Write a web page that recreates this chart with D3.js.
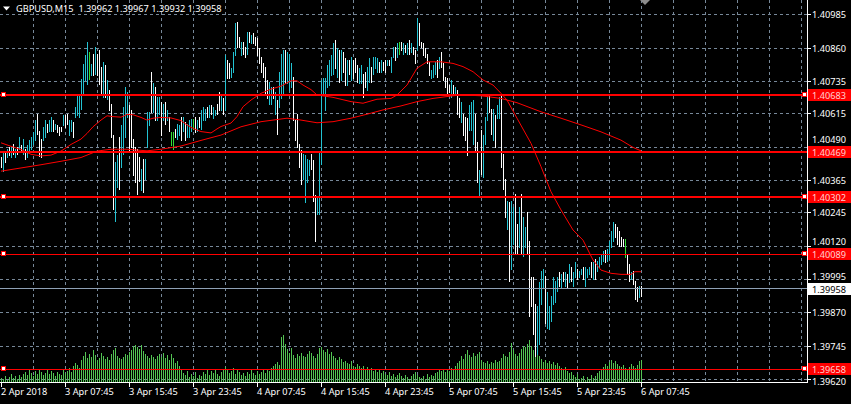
<!DOCTYPE html>
<html><head><meta charset="utf-8">
<script src="https://cdn.jsdelivr.net/npm/d3@7"></script>
<style>
html,body{margin:0;padding:0;background:#000;}
svg{display:block;}
text{font-family:"Noto Sans",sans-serif;}
</style></head><body>
<svg id="chart" width="851" height="404"></svg>
<script>
// ---------------- DATA ----------------
const chartTitle = "GBPUSD,M15  1.39962 1.39967 1.39932 1.39958";

const highs = [
1.40451,1.40469,1.40469,1.40482,1.40490,1.40488,1.40500,1.40482,1.40488,1.40525,
1.40494,1.40519,1.40482,1.40494,1.40513,1.40525,1.40544,1.40588,1.40613,1.40550,
1.40519,1.40563,1.40588,1.40575,1.40588,1.40600,1.40588,1.40575,1.40569,1.40563,
1.40563,1.40607,1.40607,1.40610,1.40588,1.40588,1.40582,1.40638,1.40682,1.40688,
1.40744,1.40800,1.40832,1.40882,1.40844,1.40800,1.40838,1.40863,1.40838,1.40851,
1.40788,1.40807,1.40794,1.40738,1.40700,1.40650,1.40532,1.40432,1.40457,1.40525,
1.40569,1.40638,1.40713,1.40694,1.40644,1.40625,1.40519,1.40488,1.40482,1.40451,
1.40407,1.40444,1.40444,1.40619,1.40619,1.40769,1.40726,1.40713,1.40675,1.40675,
1.40657,1.40650,1.40657,1.40625,1.40600,1.40544,1.40544,1.40557,1.40575,1.40569,
1.40600,1.40600,1.40582,1.40575,1.40588,1.40594,1.40594,1.40600,1.40588,1.40600,
1.40626,1.40638,1.40632,1.40638,1.40645,1.40645,1.40638,1.40626,1.40651,1.40695,
1.40682,1.40670,1.40832,1.40813,1.40801,1.40782,1.40845,1.40951,1.40957,1.40901,
1.40882,1.40882,1.40863,1.40920,1.40920,1.40907,1.40913,1.40901,1.40895,1.40857,
1.40826,1.40801,1.40788,1.40738,1.40732,1.40713,1.40713,1.40695,1.40663,1.40770,
1.40838,1.40851,1.40851,1.40845,1.40838,1.40801,1.40751,1.40588,1.40613,1.40501,
1.40476,1.40463,1.40457,1.40445,1.40438,1.40463,1.40438,1.40307,1.40301,1.40470,
1.40738,1.40745,1.40745,1.40795,1.40813,1.40832,1.40876,1.40888,1.40857,1.40851,
1.40851,1.40845,1.40820,1.40813,1.40813,1.40826,1.40813,1.40820,1.40795,1.40782,
1.40795,1.40763,1.40770,1.40788,1.40820,1.40788,1.40826,1.40826,1.40820,1.40807,
1.40813,1.40807,1.40813,1.40813,1.40813,1.40826,1.40863,1.40863,1.40876,1.40882,
1.40882,1.40876,1.40870,1.40876,1.40888,1.40876,1.40863,1.40851,1.40970,1.40951,
1.40882,1.40876,1.40857,1.40838,1.40807,1.40776,1.40795,1.40807,1.40813,1.40826,
1.40845,1.40801,1.40751,1.40745,1.40720,1.40738,1.40720,1.40713,1.40701,1.40670,
1.40657,1.40613,1.40601,1.40595,1.40645,1.40657,1.40663,1.40613,1.40507,1.40401,
1.40551,1.40532,1.40601,1.40682,1.40682,1.40632,1.40632,1.40607,1.40645,1.40676,
1.40682,1.40463,1.40370,1.40288,1.40282,1.40288,1.40263,1.40313,1.40201,1.40263,
1.40313,1.40226,1.40188,1.40245,1.40138,1.40001,1.40001,1.39901,1.39895,1.39982,
1.40026,1.40032,1.40007,1.39945,1.39895,1.39932,1.40001,1.39988,1.40001,1.40020,
1.40013,1.40020,1.40020,1.40013,1.40051,1.40038,1.40020,1.40057,1.40032,1.40026,
1.40032,1.40038,1.40038,1.40032,1.40038,1.40057,1.40057,1.40070,1.40063,1.40076,
1.40088,1.40101,1.40103,1.40107,1.40138,1.40176,1.40207,1.40201,1.40188,1.40176,
1.40151,1.40145,1.40145,1.40088,1.40051,1.40020,1.40026,1.39988,1.39963,1.39970,
1.39967];

const lows = [
1.40413,1.40400,1.40432,1.40451,1.40457,1.40451,1.40463,1.40451,1.40463,1.40482,
1.40469,1.40463,1.40444,1.40451,1.40469,1.40482,1.40500,1.40513,1.40538,1.40453,
1.40451,1.40513,1.40525,1.40544,1.40550,1.40550,1.40550,1.40557,1.40544,1.40532,
1.40550,1.40569,1.40563,1.40575,1.40532,1.40550,1.40525,1.40600,1.40607,1.40600,
1.40632,1.40688,1.40738,1.40725,1.40744,1.40757,1.40757,1.40763,1.40757,1.40725,
1.40682,1.40676,1.40676,1.40669,1.40625,1.40525,1.40257,1.40213,1.40338,1.40332,
1.40413,1.40463,1.40525,1.40600,1.40475,1.40488,1.40382,1.40357,1.40313,1.40363,
1.40326,1.40319,1.40369,1.40488,1.40569,1.40619,1.40619,1.40588,1.40588,1.40613,
1.40532,1.40588,1.40575,1.40588,1.40550,1.40494,1.40482,1.40525,1.40519,1.40532,
1.40513,1.40550,1.40513,1.40525,1.40525,1.40550,1.40557,1.40544,1.40550,1.40563,
1.40557,1.40588,1.40588,1.40601,1.40601,1.40613,1.40595,1.40607,1.40613,1.40626,
1.40626,1.40613,1.40626,1.40745,1.40745,1.40751,1.40770,1.40832,1.40863,1.40863,
1.40832,1.40838,1.40826,1.40838,1.40882,1.40876,1.40876,1.40870,1.40832,1.40801,
1.40770,1.40751,1.40682,1.40670,1.40651,1.40651,1.40670,1.40613,1.40538,1.40638,
1.40670,1.40688,1.40726,1.40726,1.40701,1.40713,1.40588,1.40513,1.40488,1.40413,
1.40351,1.40370,1.40282,1.40357,1.40382,1.40407,1.40288,1.40138,1.40238,1.40238,
1.40426,1.40682,1.40626,1.40713,1.40720,1.40757,1.40763,1.40782,1.40751,1.40732,
1.40738,1.40770,1.40720,1.40720,1.40763,1.40738,1.40745,1.40770,1.40732,1.40726,
1.40726,1.40676,1.40713,1.40701,1.40732,1.40732,1.40763,1.40782,1.40770,1.40770,
1.40770,1.40776,1.40770,1.40795,1.40795,1.40770,1.40826,1.40813,1.40826,1.40838,
1.40851,1.40838,1.40845,1.40838,1.40838,1.40845,1.40838,1.40801,1.40851,1.40870,
1.40863,1.40832,1.40826,1.40801,1.40757,1.40745,1.40751,1.40763,1.40751,1.40782,
1.40788,1.40738,1.40713,1.40688,1.40695,1.40676,1.40688,1.40688,1.40613,1.40601,
1.40582,1.40532,1.40513,1.40457,1.40551,1.40551,1.40501,1.40470,1.40357,1.40307,
1.40389,1.40376,1.40501,1.40588,1.40620,1.40538,1.40513,1.40488,1.40595,1.40595,
1.40413,1.40332,1.40226,1.40182,1.39988,1.40032,1.40126,1.40088,1.40088,1.40113,
1.40088,1.40082,1.40113,1.40088,1.39857,1.39895,1.39788,1.39707,1.39713,1.39751,
1.39901,1.39963,1.39832,1.39813,1.39807,1.39838,1.39901,1.39907,1.39951,1.39970,
1.39963,1.39988,1.39970,1.39963,1.39982,1.39988,1.39970,1.40001,1.39995,1.40001,
1.40013,1.39995,1.39970,1.40001,1.40013,1.40001,1.39995,1.39995,1.40026,1.40038,
1.40051,1.40063,1.40057,1.40063,1.40070,1.40113,1.40138,1.40151,1.40126,1.40120,
1.40120,1.40120,1.40076,1.40013,1.39988,1.39995,1.39976,1.39920,1.39913,1.39926,
1.39932];

// U = bull bar, D = bear bar, N = unchanged
const barDir = (
"DUDUDUDUDU"+"DUDUUUUUDD"+"DUUDUUDUDD"+"DUDDUUDUUU"+"UUUUNUDUDD"+
"DUDUDDDUUD"+"UUUUDDDDDD"+"UDUUUDUDUU"+"DUDUDNNDUU"+"DUDUUUNDUD"+
"UUUDUDUUDD"+"UDUDDUUUDD"+"UDDUDUDDDD"+"DDDDUUDUDU"+"UUDUUUDDDD"+
"DUUUUDDDUU"+"UUUUUUUDUD"+"UDDUDUDDDU"+"UDDUUDUUUD"+"UDDUDUUDUN"+
"DUDUDUDDUD"+"DDDDDUUUDU"+"DDDDDUDUDD"+"UDDDUUUDDU"+"DUUUDDUDUU"+
"DDDUDUUDDU"+"DUUDDDDDUU"+"UUDUUUUUUD"+"UDUDUDUUDU"+"UDUUUDUDUU"+
"UUDUUUUDDD"+"DDNDDUDDDU"+"D").split("");

const volumes = [
100,75,150,50,125,200,100,150,75,175,
125,200,250,175,300,225,150,275,200,325,
250,175,225,300,200,275,225,150,250,200,
175,300,225,275,350,250,400,475,425,350,
550,650,750,600,700,625,800,675,550,600,
725,650,575,625,550,700,800,850,650,600,
575,625,700,675,750,800,900,925,875,825,
925,775,700,650,600,675,625,575,650,700,
625,725,600,675,550,700,600,475,525,400,
300,225,175,275,125,200,150,250,100,175,
150,250,200,325,175,275,225,300,200,150,
250,325,375,300,225,275,350,200,300,250,
175,225,150,250,200,300,225,175,275,200,
250,300,225,325,275,350,400,450,500,425,
1125,1175,950,825,725,850,675,600,700,650,
725,650,625,700,775,725,650,600,700,850,
875,800,750,825,700,750,650,600,550,625,
575,500,525,475,450,525,400,375,450,400,
350,400,325,375,300,350,275,325,250,300,
225,275,200,175,250,150,200,125,175,225,
150,100,175,125,75,150,200,250,175,125,
100,150,75,200,125,175,150,225,250,300,
275,325,250,300,275,350,300,400,475,525,
650,575,700,800,675,625,725,650,700,750,
550,500,475,525,450,500,475,550,500,525,
600,700,650,625,750,975,800,700,650,725,
825,900,875,950,1050,900,800,725,850,650,
575,500,550,475,525,450,500,425,475,400,
350,300,375,275,225,250,175,125,200,75,
100,150,50,125,75,175,100,150,225,275,
325,375,450,400,500,550,475,525,450,400,
375,425,350,300,375,450,400,350,425,525,
550];

const fastMAIdx = [0,5,10,15,20,25,30,35,40,43,46,50,53,56,60,63,66,70,73,76,80,85,90,93,96,100,105,108,110,115,118,121,125,130,135,140,145,148,151,155,158,166,175,181,188,195,198,203,208,213,220,226,231,236,241,246,250,253,258,265,270,275,280,286,291,296,300,305,310,315,317,320];
const fastMA = [1.40504,1.40491,1.40479,1.40461,1.40455,1.40458,1.40473,1.40498,1.40518,1.40539,1.40564,1.40589,1.40605,1.40602,1.40600,1.40610,1.40609,1.40599,1.40589,1.40596,1.40599,1.40597,1.40587,1.40571,1.40558,1.40546,1.40541,1.40556,1.40565,1.40578,1.40602,1.40639,1.40664,1.40689,1.40705,1.40716,1.40736,1.40736,1.40720,1.40703,1.40683,1.40674,1.40658,1.40652,1.40667,1.40670,1.40683,1.40720,1.40783,1.40807,1.40807,1.40801,1.40789,1.40770,1.40739,1.40720,1.40689,1.40664,1.40596,1.40502,1.40415,1.40321,1.40253,1.40178,1.40140,1.40066,1.40028,1.40016,1.40012,1.40012,1.40022,1.40022];

const slowMAIdx = [0,10,20,30,40,43,48,55,63,73,80,90,100,110,120,130,143,150,158,166,175,183,191,200,208,216,225,230,240,250,258,270,280,290,300,310,316,320];
const slowMA = [1.40398,1.40410,1.40422,1.40435,1.40449,1.40458,1.40473,1.40480,1.40480,1.40474,1.40480,1.40492,1.40513,1.40533,1.40564,1.40583,1.40596,1.40589,1.40579,1.40583,1.40596,1.40611,1.40627,1.40642,1.40658,1.40670,1.40679,1.40683,1.40680,1.40670,1.40654,1.40620,1.40596,1.40571,1.40545,1.40514,1.40487,1.40474];

const priceTicks = [1.40985,1.40860,1.40735,1.40615,1.40490,1.40365,1.40245,1.40120,1.39995,1.39870,1.39745,1.39620];
const timeTickIdx = [0,32,64,96,128,160,192,224,256,288,320];
const timeTickLabels = ["2 Apr 2018","3 Apr 07:45","3 Apr 15:45","3 Apr 23:45","4 Apr 07:45","4 Apr 15:45","4 Apr 23:45","5 Apr 07:45","5 Apr 15:45","5 Apr 23:45","6 Apr 07:45"];
const levelPrices = [1.40683, 1.40469, 1.40302, 1.40089, 1.39658];
const bidPrice = 1.39958;

// ---------------- DRAWING ----------------
const svg = d3.select("#chart");
const plotRight = 807, plotBottom = 382;
const gridColor = "#778899";
const upColor = "#22c3d3", downColor = "#ffffff", flatColor = "#33dd33";
const volColor = "#52c452";
const lineRed = "#ff0000";
const fontSize = "9.2px";

svg.append("rect").attr("width",851).attr("height",404).attr("fill","#000");

const x = d3.scaleLinear().domain([0, 400]).range([1, 801]);
const y = d3.scaleLinear().domain([1.39620, 1.40985]).range([379.2, 14.2]);
const yv = d3.scaleLinear().domain([0, 1200]).range([plotBottom, plotBottom - 48]);

// grid
const gGrid = svg.append("g").attr("shape-rendering","crispEdges")
  .attr("stroke", gridColor).attr("stroke-dasharray","3,3");
gGrid.selectAll("line.h").data(priceTicks).join("line").attr("class","h")
  .attr("x1",0).attr("x2",plotRight)
  .attr("y1",d=>Math.round(y(d))+0.5).attr("y2",d=>Math.round(y(d))+0.5);
gGrid.selectAll("line.v").data(d3.range(16, 401, 16)).join("line").attr("class","v")
  .attr("x1",d=>x(d)+0.5).attr("x2",d=>x(d)+0.5)
  .attr("y1",0).attr("y2",plotBottom);

// volumes
svg.append("g").attr("shape-rendering","crispEdges")
  .selectAll("rect").data(volumes).join("rect")
  .attr("x",(d,i)=>x(i)).attr("width",1)
  .attr("y",d=>Math.round(yv(d))).attr("height",d=>plotBottom-Math.round(yv(d)))
  .attr("fill",volColor);

// price bars
svg.append("g").attr("shape-rendering","crispEdges")
  .selectAll("rect").data(highs).join("rect")
  .attr("x",(d,i)=>x(i)).attr("width",1)
  .attr("y",(d)=>Math.round(y(d)))
  .attr("height",(d,i)=>Math.max(1, Math.round(y(lows[i])) - Math.round(y(d)) + 1))
  .attr("fill",(d,i)=>barDir[i]==="U"?upColor:(barDir[i]==="D"?downColor:flatColor));

// moving averages
const maLine = d3.line().x(d=>x(d[0])).y(d=>y(d[1]));
[[fastMAIdx, fastMA],[slowMAIdx, slowMA]].forEach(([idx, vals])=>{
  svg.append("path").datum(idx.map((k,j)=>[k, vals[j]]))
    .attr("d", maLine).attr("fill","none").attr("stroke",lineRed).attr("stroke-width",1);
});

// bid line
svg.append("line").attr("shape-rendering","crispEdges")
  .attr("x1",0).attr("x2",plotRight)
  .attr("y1",Math.round(y(bidPrice))-0.5).attr("y2",Math.round(y(bidPrice))-0.5)
  .attr("stroke","#8fa0b4").attr("stroke-width",1);

// horizontal levels
const levelWidth = [2,2,2,1,1];
const levelMarked = [true,false,true,true,true];
const gLev = svg.append("g").attr("shape-rendering","crispEdges");
levelPrices.forEach((p,k)=>{
  const ly = levelWidth[k]===2 ? Math.round(y(p)) : Math.round(y(p))+0.5;
  gLev.append("line").attr("x1",0).attr("x2",plotRight).attr("y1",ly).attr("y2",ly)
    .attr("stroke",lineRed).attr("stroke-width",levelWidth[k]);
});

// axes borders
const gAx = svg.append("g").attr("shape-rendering","crispEdges").attr("stroke","#fff");
gAx.append("line").attr("x1",plotRight+0.5).attr("x2",plotRight+0.5).attr("y1",0).attr("y2",plotBottom+1);
gAx.append("line").attr("x1",0).attr("x2",plotRight+1).attr("y1",plotBottom+0.5).attr("y2",plotBottom+0.5);
gAx.selectAll("line.pt").data(priceTicks).join("line").attr("class","pt")
  .attr("x1",plotRight).attr("x2",plotRight+4)
  .attr("y1",d=>Math.round(y(d))+0.5).attr("y2",d=>Math.round(y(d))+0.5);
gAx.selectAll("line.tt").data(timeTickIdx).join("line").attr("class","tt")
  .attr("x1",d=>x(d)+0.5).attr("x2",d=>x(d)+0.5)
  .attr("y1",plotBottom).attr("y2",plotBottom+5);

// markers on level ends
levelPrices.forEach((p,k)=>{
  if(!levelMarked[k]) return;
  const cy = Math.round(y(p));
  [1.5, 802.5].forEach(sx=>{
    svg.append("rect").attr("x",sx).attr("y",cy-2.5).attr("width",4).attr("height",4)
      .attr("fill","#fff").attr("stroke",lineRed).attr("stroke-width",1)
      .attr("shape-rendering","crispEdges");
  });
});

// price tick labels, nudged clear of the price boxes on the scale
const boxCenters = levelPrices.concat([bidPrice]).map(p=>Math.round(y(p)));
const labelGap = 12.8;
function labelY(t){
  let ty = Math.round(y(t)) + 0.5;
  boxCenters.forEach(bc=>{
    if (Math.abs(ty - bc) < labelGap) ty = ty < bc ? bc - labelGap : bc + labelGap;
  });
  return ty;
}
svg.append("g").selectAll("text").data(priceTicks).join("text")
  .attr("x",812).attr("y",d=>labelY(d))
  .attr("dominant-baseline","central")
  .attr("fill","#fff").attr("font-size",fontSize)
  .text(d=>d.toFixed(5));

// level price boxes
levelPrices.forEach((p)=>{
  const cy = Math.round(y(p));
  svg.append("rect").attr("x",808).attr("y",cy-6).attr("width",43).attr("height",12)
    .attr("fill",lineRed).attr("shape-rendering","crispEdges");
  svg.append("text").attr("x",812).attr("y",cy+0.5).attr("dominant-baseline","central")
    .attr("fill","#ffd0d0").attr("font-size",fontSize).text(p.toFixed(5));
});
// bid box
{
  const cy = Math.round(y(bidPrice));
  svg.append("rect").attr("x",808).attr("y",cy-6).attr("width",43).attr("height",12)
    .attr("fill","#fff").attr("shape-rendering","crispEdges");
  svg.append("text").attr("x",812).attr("y",cy+0.5).attr("dominant-baseline","central")
    .attr("fill","#000").attr("font-size",fontSize).text(bidPrice.toFixed(5));
}

// time labels
svg.append("g").selectAll("text").data(timeTickIdx).join("text")
  .attr("x",d=>x(d)).attr("y",395)
  .attr("fill","#fff").attr("font-size",fontSize)
  .text((d,i)=>timeTickLabels[i]);

// title
svg.append("path").attr("d","M3,6.5 L10,6.5 L6.5,10.5 Z").attr("fill","#fff");
svg.append("text").attr("x",16).attr("y",11.5).attr("fill","#fff")
  .attr("font-size",fontSize).attr("xml:space","preserve").style("white-space","pre")
  .text(chartTitle);

// chart-shift marker
svg.append("path").attr("d","M640,0 L650,0 L645,5 Z").attr("fill","#8c8c8c");
</script>
</body></html>
